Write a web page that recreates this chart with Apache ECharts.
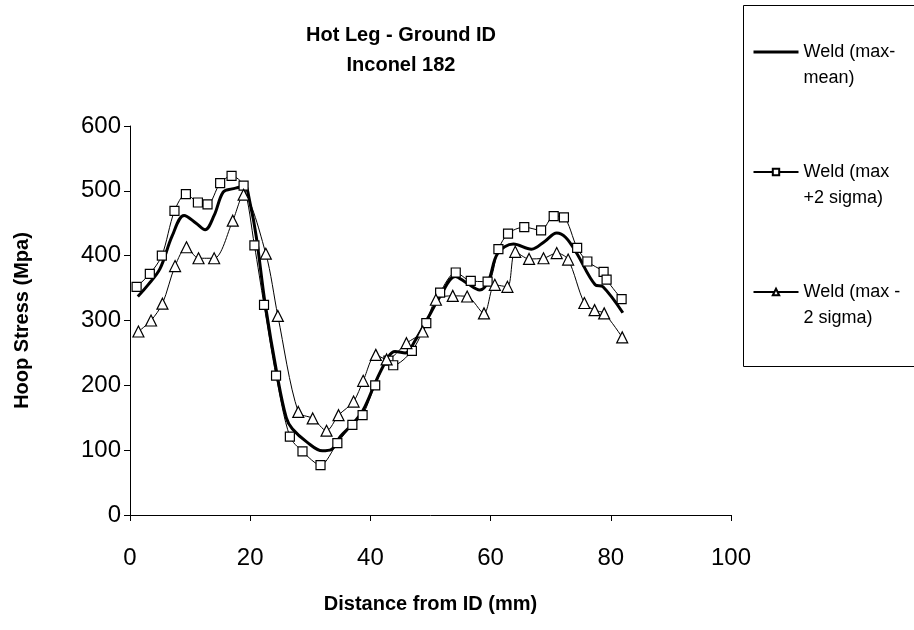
<!DOCTYPE html>
<html>
<head>
<meta charset="utf-8">
<script src="https://cdn.jsdelivr.net/npm/echarts@6/dist/echarts.min.js"></script>
<style>
  html,body{margin:0;padding:0;background:#fff;}
  #main{width:914px;height:630px;}
</style>
</head>
<body>
<div id="main"></div>
<script>
// data: [distance mm, hoop stress MPa]
var seriesNames = ['Weld (max-\nmean)', 'Weld (max\n+2 sigma)', 'Weld (max -\n2 sigma)'];
var xTicks = [0, 20, 40, 60, 80, 100];
var yTicks = [0, 100, 200, 300, 400, 500, 600];

var meanPts = [[1.3,337],[3,355],[5,380],[7,430],[9,462],[11,450],[12.5,440],[14,462],[15.5,498],
  [17,503],[18.3,506],[19,511],[20,480],[21,430],[22.5,325],[24.5,215],[26,150],[27,133],[29.5,112],
  [32,99],[33.5,101],[35,121],[37,140],[38.8,162],[41,208],[43,244],[44.1,252],[45.8,250],[47.5,270],
  [49.4,301],[51.6,337],[54.1,368],[56,358],[58.2,347],[59.6,360],[61.2,404],[63.8,418],[66.8,410],
  [69,422],[71,435],[72.5,428],[74.3,404],[77.4,355],[78.7,352],[82,312]];

var plusPts = [[1.1,352],[3.3,372],[5.3,400],[7.4,469],[9.3,495],[11.3,482],[12.9,479],[15,512],
  [16.9,523],[18.9,508],[20.7,416],[22.3,324],[24.3,215],[26.6,121],[28.7,98],[31.7,77],[34.5,111],
  [37,139],[38.7,154],[40.8,200],[43,238],[43.8,231],[46.9,253],[49.3,296],[51.6,343],[54.2,374],
  [56.7,361],[59.5,360],[61.3,410],[62.9,434],[65.6,444],[68.4,439],[70.5,461],[72.2,459],[74.4,412],
  [76.1,391],[78.8,375],[79.3,363],[81.8,333]];

var minusPts = [[1.4,283],[3.5,300],[5.4,326],[7.5,384],[9.4,413],[11.4,396],[14,396],[17.1,454],
  [18.9,494],[22.6,403],[24.6,307],[28,159],[30.4,149],[32.7,130],[34.7,154],[37.2,175],[38.8,207],
  [40.9,247],[42.7,240],[46,265],[48.7,283],[50.9,332],[53.7,338],[56.1,337],[58.9,311],[60.7,355],
  [62.8,352],[64.1,406],[66.4,395],[68.8,396],[71,404],[72.9,394],[75.6,327],[77.3,316],[78.9,311],
  [81.9,274]];

var myChart = echarts.init(document.getElementById('main'));
var font = 'Liberation Sans, Arial, sans-serif';

option = {
    backgroundColor: '#fff',
    animation: false,
    textStyle: { fontFamily: font, color: '#000' },
    title: {
        text: 'Hot Leg - Ground ID\nInconel 182',
        left: 396,
        top: 15,
        textAlign: 'center',
        textStyle: { fontFamily: font, fontSize: 20, fontWeight: 'bold', color: '#000', lineHeight: 30 }
    },
    grid: { left: 130, right: 183, top: 126, bottom: 115 },
    legend: {
        orient: 'vertical',
        left: 752,
        top: 13,
        padding: 0,
        itemGap: 42,
        itemWidth: 45,
        itemHeight: 8,
        data: [
            { name: seriesNames[0], lineStyle: { width: 3, color: '#000' } },
            { name: seriesNames[1] },
            { name: seriesNames[2] }
        ],
        //空行让图标对齐第一行
        formatter: function (name) { return '\n' + name; },
        textStyle: { fontFamily: font, fontSize: 18, color: '#000', lineHeight: 26 }
    },
    graphic: [{
        type: 'rect',
        shape: { x: 743.5, y: 5.5, width: 200, height: 361 },
        style: { fill: 'none', stroke: '#000', lineWidth: 1 }
    }],
    xAxis: {
        type: 'value',
        min: xTicks[0],
        max: xTicks[xTicks.length - 1],
        interval: 20,
        name: 'Distance from ID (mm)',
        nameLocation: 'middle',
        nameGap: 79,
        nameTextStyle: { fontFamily: font, fontSize: 20, fontWeight: 'bold', color: '#000' },
        axisLine: { lineStyle: { color: '#000', width: 1 } },
        axisTick: { length: 6, lineStyle: { color: '#000' } },
        axisLabel: { fontFamily: font, fontSize: 24, color: '#000', margin: 31 },
        splitLine: { show: false }
    },
    yAxis: {
        type: 'value',
        min: yTicks[0],
        max: yTicks[yTicks.length - 1],
        interval: 100,
        name: 'Hoop Stress (Mpa)',
        nameLocation: 'middle',
        nameGap: 98,
        nameTextStyle: { fontFamily: font, fontSize: 20, fontWeight: 'bold', color: '#000' },
        axisLine: { show: true, lineStyle: { color: '#000', width: 1 } },
        axisTick: { show: true, length: 6, lineStyle: { color: '#000' } },
        axisLabel: { fontFamily: font, fontSize: 24, color: '#000', margin: 9 },
        splitLine: { show: false }
    },
    series: [
        {
            name: seriesNames[0],
            type: 'line',
            data: meanPts,
            smooth: 0.35,
            showSymbol: false,
            symbol: 'none',
            lineStyle: { color: '#000', width: 3 },
            itemStyle: { color: 'rgba(0,0,0,0)' }
        },
        {
            name: seriesNames[1],
            type: 'line',
            data: plusPts,
            smooth: 0.3,
            symbol: 'rect',
            symbolSize: 9,
            lineStyle: { color: '#000', width: 1 },
            itemStyle: { color: '#fff', borderColor: '#000', borderWidth: 1.2 }
        },
        {
            name: seriesNames[2],
            type: 'line',
            data: minusPts,
            smooth: 0.3,
            symbol: 'triangle',
            symbolSize: 11,
            lineStyle: { color: '#000', width: 1 },
            itemStyle: { color: '#fff', borderColor: '#000', borderWidth: 1.2 }
        }
    ]
};

myChart.setOption(option);
</script>
</body>
</html>
